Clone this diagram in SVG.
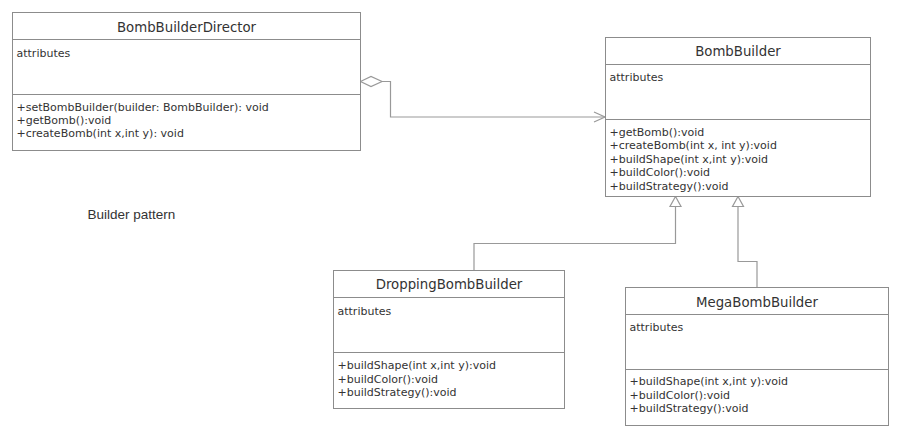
<svg xmlns="http://www.w3.org/2000/svg" width="902" height="438" viewBox="0 0 902 438">
<style>
.box{fill:#fff;stroke:#8c8c8c;stroke-width:1}
.sep{stroke:#8c8c8c;stroke-width:1}
.title{font-family:"DejaVu Sans",Verdana,sans-serif;font-size:13.3px;fill:#333;text-anchor:middle}
.t{font-family:"DejaVu Sans",Verdana,sans-serif;font-size:11px;fill:#333}
.edge{fill:none;stroke:#999;stroke-width:1.2}
.head{fill:#fff;stroke:#999;stroke-width:1.2}
.note{font-family:"Liberation Sans",Arial,sans-serif;font-size:13.5px;fill:#333}
</style>
<rect width="902" height="438" fill="#fff"/>
<g id="connectors">
<path class="edge" d="M382,81.5 L390.5,81.5 L390.5,117 L605,117"/>
<polygon class="head" points="360.5,81.5 371,76.5 382,81.5 371,86.5"/>
<polyline class="edge" points="594,112 605,117 594,122"/>
<path class="edge" d="M474,270 L474,243.5 L675.5,243.5 L675.5,206.5"/>
<polygon class="head" points="675.5,196.5 670,206.5 681,206.5"/>
<path class="edge" d="M757,287 L757,261.5 L738,261.5 L738,206.5"/>
<polygon class="head" points="738,196.5 732.5,206.5 743.5,206.5"/>
</g>
<g id="BombBuilderDirector">
<rect class="box" x="12.5" y="12.5" width="348" height="138"/>
<line class="sep" x1="12.5" y1="39.5" x2="360.5" y2="39.5"/>
<line class="sep" x1="12.5" y1="94.5" x2="360.5" y2="94.5"/>
<text class="title" x="186.5" y="32">BombBuilderDirector</text>
<text class="t" x="16.5" y="57">attributes</text>
<text class="t" x="16.5" y="111">+setBombBuilder(builder: BombBuilder): void</text>
<text class="t" x="16.5" y="124">+getBomb():void</text>
<text class="t" x="16.5" y="137">+createBomb(int x,int y): void</text>
</g>
<g id="BombBuilder">
<rect class="box" x="605.5" y="37.5" width="265" height="159"/>
<line class="sep" x1="605.5" y1="64.5" x2="870.5" y2="64.5"/>
<line class="sep" x1="605.5" y1="119.5" x2="870.5" y2="119.5"/>
<text class="title" x="738" y="56">BombBuilder</text>
<text class="t" x="609.5" y="81">attributes</text>
<text class="t" x="609.5" y="135.5">+getBomb():void</text>
<text class="t" x="609.5" y="149">+createBomb(int x, int y):void</text>
<text class="t" x="609.5" y="162.5">+buildShape(int x,int y):void</text>
<text class="t" x="609.5" y="176">+buildColor():void</text>
<text class="t" x="609.5" y="189.5">+buildStrategy():void</text>
</g>
<g id="DroppingBombBuilder">
<rect class="box" x="333.5" y="270.5" width="231" height="138"/>
<line class="sep" x1="333.5" y1="297.5" x2="564.5" y2="297.5"/>
<line class="sep" x1="333.5" y1="352.5" x2="564.5" y2="352.5"/>
<text class="title" x="449" y="289">DroppingBombBuilder</text>
<text class="t" x="337.5" y="315">attributes</text>
<text class="t" x="337.5" y="369">+buildShape(int x,int y):void</text>
<text class="t" x="337.5" y="382.5">+buildColor():void</text>
<text class="t" x="337.5" y="396">+buildStrategy():void</text>
</g>
<g id="MegaBombBuilder">
<rect class="box" x="625.5" y="287.5" width="263" height="138"/>
<line class="sep" x1="625.5" y1="314.5" x2="888.5" y2="314.5"/>
<line class="sep" x1="625.5" y1="369.5" x2="888.5" y2="369.5"/>
<text class="title" x="757" y="306.5">MegaBombBuilder</text>
<text class="t" x="629.5" y="331">attributes</text>
<text class="t" x="629.5" y="385">+buildShape(int x,int y):void</text>
<text class="t" x="629.5" y="398.5">+buildColor():void</text>
<text class="t" x="629.5" y="412">+buildStrategy():void</text>
</g>
<text class="note" x="87.5" y="218.5">Builder pattern</text>
</svg>
